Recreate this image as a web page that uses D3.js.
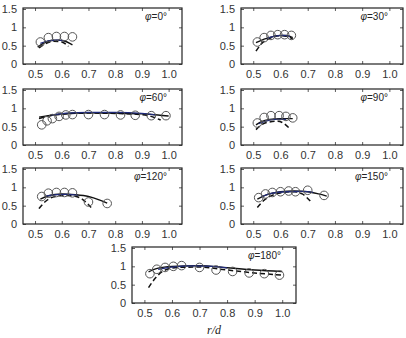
<!DOCTYPE html>
<html><head><meta charset="utf-8">
<script src="https://cdn.jsdelivr.net/npm/d3@7"></script>
<style>body{margin:0;background:#fff}svg{display:block}</style>
</head><body>
<svg id="c" width="406" height="338"></svg>
<script>
const angles = ["0","30","60","90","120","150","180"];
const xTicks = [0.5,0.6,0.7,0.8,0.9,1.0];
const xTickLabels = ["0.5","0.6","0.7","0.8","0.9","1.0"];
const yTicks = [0,0.5,1,1.5];
const yTickLabels = ["0","0.5","1","1.5"];

// measured (circles), model A (solid black), model B (blue), model C (dashed)
const exp0   = [[0.52,0.6],[0.55,0.72],[0.58,0.75],[0.61,0.75],[0.64,0.74]];
const solid0 = [[0.51,0.46],[0.535,0.58],[0.56,0.64],[0.59,0.65],[0.62,0.6],[0.64,0.52]];
const blue0  = [[0.52,0.56],[0.55,0.63],[0.58,0.65],[0.61,0.64]];
const dash0  = [[0.515,0.44],[0.54,0.56],[0.57,0.62],[0.6,0.6],[0.625,0.48]];

const exp30   = [[0.515,0.6],[0.54,0.72],[0.565,0.78],[0.59,0.8],[0.615,0.8],[0.64,0.78]];
const solid30 = [[0.51,0.58],[0.54,0.68],[0.57,0.74],[0.6,0.78],[0.62,0.78],[0.645,0.72]];
const blue30  = [[0.55,0.7],[0.58,0.76],[0.61,0.78],[0.635,0.75]];
const dash30  = [[0.51,0.35],[0.53,0.55],[0.56,0.7],[0.59,0.77],[0.62,0.76],[0.645,0.68]];

const exp60   = [[0.525,0.55],[0.545,0.66],[0.565,0.72],[0.59,0.78],[0.615,0.82],[0.64,0.83],[0.7,0.83],[0.76,0.83],[0.82,0.82],[0.875,0.81],[0.935,0.8],[0.99,0.8]];
const solid60 = [[0.515,0.76],[0.55,0.8],[0.6,0.85],[0.65,0.87],[0.7,0.88],[0.8,0.87],[0.9,0.85],[0.96,0.82],[1.0,0.79]];
const blue60  = [[0.56,0.82],[0.62,0.87],[0.7,0.89],[0.8,0.89],[0.9,0.86],[0.95,0.82]];
const dash60  = [[0.515,0.72],[0.55,0.79],[0.6,0.84],[0.7,0.87],[0.8,0.86],[0.88,0.84],[0.93,0.79],[0.97,0.68]];

const exp90   = [[0.515,0.6],[0.54,0.75],[0.565,0.8],[0.595,0.8],[0.62,0.78],[0.645,0.74]];
const solid90 = [[0.51,0.55],[0.53,0.64],[0.56,0.7],[0.6,0.72],[0.645,0.72]];
const blue90  = [[0.52,0.58],[0.55,0.66],[0.58,0.7],[0.62,0.7]];
const dash90  = [[0.51,0.42],[0.53,0.55],[0.56,0.63],[0.59,0.65],[0.61,0.6],[0.635,0.44]];

const exp120   = [[0.525,0.75],[0.55,0.84],[0.58,0.86],[0.61,0.86],[0.64,0.85],[0.7,0.6],[0.77,0.56]];
const solid120 = [[0.52,0.68],[0.55,0.77],[0.6,0.82],[0.65,0.8],[0.7,0.75],[0.74,0.66],[0.77,0.57]];
const blue120  = [[0.54,0.76],[0.58,0.8],[0.62,0.81],[0.66,0.79]];
const dash120  = [[0.515,0.42],[0.54,0.62],[0.57,0.74],[0.61,0.78],[0.65,0.76],[0.68,0.66],[0.71,0.45]];

const exp150   = [[0.52,0.72],[0.545,0.82],[0.57,0.86],[0.6,0.88],[0.63,0.9],[0.655,0.88],[0.7,0.92],[0.76,0.78]];
const solid150 = [[0.515,0.68],[0.55,0.8],[0.6,0.88],[0.65,0.9],[0.7,0.88],[0.74,0.82],[0.77,0.76]];
const blue150  = [[0.53,0.74],[0.57,0.84],[0.62,0.88],[0.68,0.89],[0.72,0.86]];
const dash150  = [[0.515,0.45],[0.54,0.65],[0.57,0.78],[0.61,0.86],[0.65,0.88],[0.68,0.82],[0.71,0.62]];

const exp180   = [[0.52,0.8],[0.545,0.92],[0.575,0.97],[0.605,1.0],[0.635,1.02],[0.7,0.97],[0.76,0.9],[0.82,0.86],[0.88,0.82],[0.935,0.8],[0.99,0.76]];
const solid180 = [[0.515,0.85],[0.55,0.95],[0.6,1.0],[0.7,1.02],[0.8,0.96],[0.9,0.9],[1.0,0.86]];
const blue180  = [[0.55,0.92],[0.6,0.98],[0.68,1.01],[0.75,1.0],[0.8,0.96]];
const dash180  = [[0.515,0.42],[0.54,0.68],[0.57,0.88],[0.62,0.97],[0.7,0.98],[0.8,0.9],[0.9,0.82],[1.0,0.76]];

const panelData = [
  {exp:exp0, solid:solid0, blue:blue0, dash:dash0},
  {exp:exp30, solid:solid30, blue:blue30, dash:dash30},
  {exp:exp60, solid:solid60, blue:blue60, dash:dash60},
  {exp:exp90, solid:solid90, blue:blue90, dash:dash90},
  {exp:exp120, solid:solid120, blue:blue120, dash:dash120},
  {exp:exp150, solid:solid150, blue:blue150, dash:dash150},
  {exp:exp180, solid:solid180, blue:blue180, dash:dash180}
];

// layout (pixel boxes)
const boxes = [
  {x0:23,x1:182,y0:8,y1:64},
  {x0:241,x1:403,y0:8,y1:64},
  {x0:23,x1:182,y0:89,y1:145},
  {x0:241,x1:403,y0:89,y1:145},
  {x0:23,x1:182,y0:168,y1:224},
  {x0:241,x1:403,y0:168,y1:224},
  {x0:132,x1:296,y0:247,y1:303}
];

const svg = d3.select("#c");
const font = "'Liberation Sans', Arial, sans-serif";

panelData.forEach((pd,i)=>{
  const b = boxes[i];
  const x = d3.scaleLinear().domain([0.455,1.05]).range([b.x0,b.x1]);
  const y = d3.scaleLinear().domain([0,1.5]).range([b.y1,b.y0+1]);
  const g = svg.append("g");
  const clipId = "clip"+i;
  g.append("clipPath").attr("id",clipId).append("rect")
    .attr("x",b.x0).attr("y",b.y0).attr("width",b.x1-b.x0).attr("height",b.y1-b.y0);

  const xb = d3.axisBottom(x).tickValues(xTicks).tickSize(-3).tickPadding(6)
     .tickFormat((d,k)=>xTickLabels[k]);
  const gx = g.append("g").attr("transform",`translate(0,${b.y1})`).call(xb);
  const yl = d3.axisLeft(y).tickValues(yTicks).tickSize(-3).tickPadding(6)
     .tickFormat((d,k)=>yTickLabels[k]);
  const gy = g.append("g").attr("transform",`translate(${b.x0},0)`).call(yl);
  const xt = d3.axisTop(x).tickValues(xTicks).tickSize(-3).tickFormat("");
  const gxt = g.append("g").attr("transform",`translate(0,${b.y0})`).call(xt);
  const yr = d3.axisRight(y).tickValues(yTicks).tickSize(-3).tickFormat("");
  const gyr = g.append("g").attr("transform",`translate(${b.x1},0)`).call(yr);
  [gx,gy,gxt,gyr].forEach(a=>{
    a.select(".domain").remove();
    a.selectAll("line").attr("stroke","#333").attr("stroke-width",0.8);
    a.selectAll("text").attr("fill","#333").style("font-family",font).style("font-size","11px");
  });

  const plot = g.append("g").attr("clip-path",`url(#${clipId})`);
  const line = d3.line().x(d=>x(d[0])).y(d=>y(d[1])).curve(d3.curveMonotoneX);

  plot.append("path").datum(pd.dash).attr("d",line).attr("fill","none")
    .attr("stroke","#111").attr("stroke-width",1.5).attr("stroke-dasharray","5,3");
  plot.append("path").datum(pd.solid).attr("d",line).attr("fill","none")
    .attr("stroke","#111").attr("stroke-width",1.4);
  plot.append("path").datum(pd.blue).attr("d",line).attr("fill","none")
    .attr("stroke","#1f2a7a").attr("stroke-width",1.3);
  plot.selectAll("circle").data(pd.exp).join("circle")
    .attr("cx",d=>x(d[0])).attr("cy",d=>y(d[1])).attr("r",4.3)
    .attr("fill","none").attr("stroke","#555").attr("stroke-width",1);

  g.append("rect").attr("x",b.x0).attr("y",b.y0).attr("width",b.x1-b.x0).attr("height",b.y1-b.y0)
    .attr("fill","none").attr("stroke","#222").attr("stroke-width",1.2);

  const t = g.append("text").attr("x",b.x1-15).attr("y",b.y0+12).attr("text-anchor","end")
    .attr("opacity",0.99)
    .style("font-family",font).style("font-size","10px").attr("fill","#222");
  t.append("tspan").style("font-style","italic").text("\u03C6");
  t.append("tspan").text("="+angles[i]+"\u00B0");
});

const bb = boxes[6];
svg.append("text").attr("x",(bb.x0+bb.x1)/2).attr("y",334).attr("text-anchor","middle")
  .style("font-family","'Liberation Serif','Times New Roman',serif").style("font-style","italic")
  .style("font-size","12px").attr("fill","#222").text("r/d");
</script>
</body></html>
